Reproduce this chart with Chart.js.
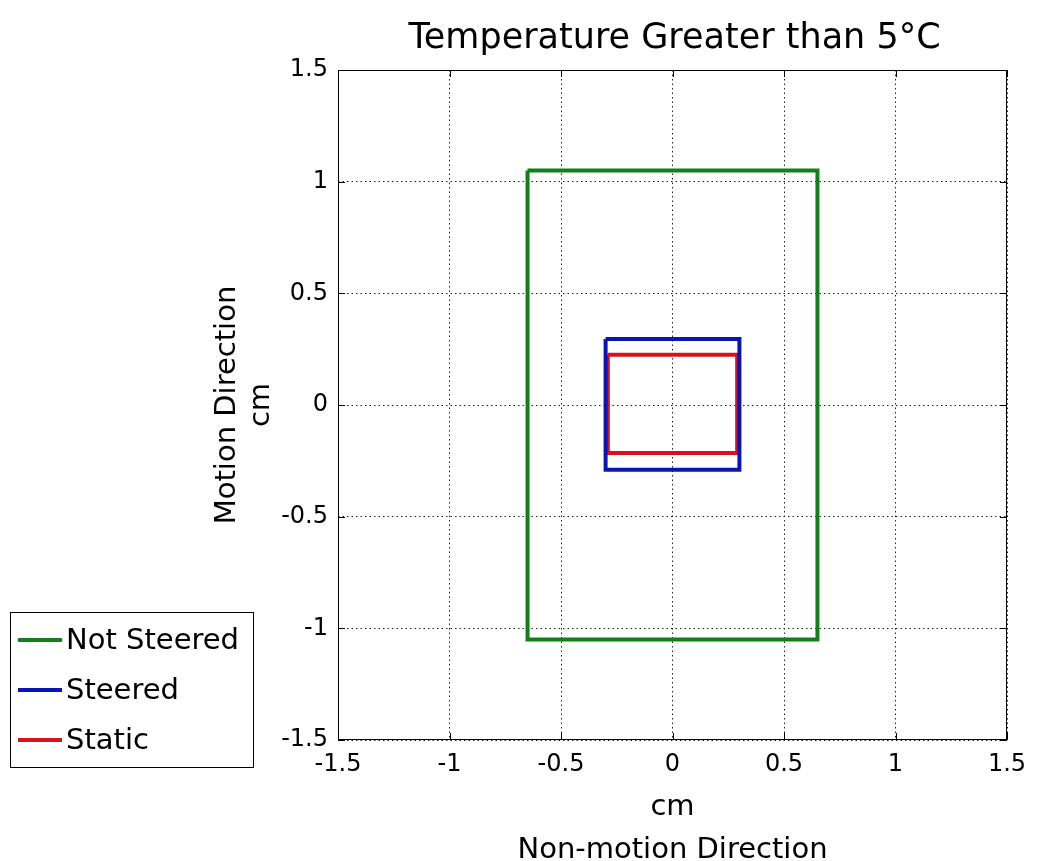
<!DOCTYPE html>
<html>
<head>
<meta charset="utf-8">
<script src="https://cdn.jsdelivr.net/npm/chart.js@4"></script>
<style>
  body { margin: 0; background: #fff; }
  #wrap { width: 1050px; height: 861px; }
</style>
</head>
<body>
<div id="wrap"><canvas id="chart" width="1050" height="861"></canvas></div>
<script>
// values (corners of each region, closed path)
const chartTitle = "Temperature Greater than 5°C"
const seriesNames = ["Not Steered", "Steered", "Static"]
const notSteeredX = [-0.65, 0.65, 0.65, -0.65, -0.65]
const notSteeredY = [1.05, 1.05, -1.05, -1.05, 1.05]
const steeredX = [-0.3, 0.3, 0.3, -0.3, -0.3]
const steeredY = [0.295, 0.295, -0.29, -0.29, 0.295]
const staticX = [-0.29, 0.29, 0.29, -0.29, -0.29]
const staticY = [0.225, 0.225, -0.215, -0.215, 0.225]
const tickValues = [-1.5, -1, -0.5, 0, 0.5, 1, 1.5]

const FONT = "'DejaVu Sans', Verdana, sans-serif"

function toPoints(xs, ys) {
  return xs.map((x, i) => ({ x: x, y: ys[i] }))
}

function line(label, xs, ys, color) {
  return {
    label: label,
    data: toPoints(xs, ys),
    showLine: true,
    borderColor: color,
    backgroundColor: color,
    borderWidth: 4,
    pointRadius: 0,
    borderJoinStyle: "miter",
    tension: 0,
  }
}

// title over the plot box, frame, inward ticks and the boxed legend at lower left
const framePlugin = {
  id: "frame",
  afterDraw(chart) {
    const ctx = chart.ctx
    const a = chart.chartArea
    const xs = chart.scales.x
    const ys = chart.scales.y
    ctx.save()

    ctx.fillStyle = "#000"
    ctx.font = "35px " + FONT
    ctx.textAlign = "center"
    ctx.textBaseline = "alphabetic"
    ctx.fillText(chartTitle, (a.left + a.right) / 2 + 2, 48)

    ctx.strokeStyle = "#000"
    ctx.lineWidth = 1
    ctx.setLineDash([])
    ctx.strokeRect(a.left + 0.5, a.top + 0.5, a.right - a.left - 1, a.bottom - a.top - 1)
    ctx.beginPath()
    tickValues.forEach((v) => {
      const px = Math.round(xs.getPixelForValue(v)) + 0.5
      ctx.moveTo(px, a.top); ctx.lineTo(px, a.top + 7)
      ctx.moveTo(px, a.bottom); ctx.lineTo(px, a.bottom - 7)
      const py = Math.round(ys.getPixelForValue(v)) + 0.5
      ctx.moveTo(a.left, py); ctx.lineTo(a.left + 7, py)
      ctx.moveTo(a.right, py); ctx.lineTo(a.right - 7, py)
    })
    ctx.stroke()

    // legend
    const lx = 10, ly = 612, lw = 243, lh = 155
    ctx.fillStyle = "#fff"
    ctx.fillRect(lx, ly, lw, lh)
    ctx.strokeRect(lx + 0.5, ly + 0.5, lw, lh)
    ctx.font = "29px " + FONT
    ctx.textAlign = "left"
    ctx.textBaseline = "middle"
    chart.data.datasets.forEach((ds, i) => {
      const y = ly + 28 + i * 50
      ctx.strokeStyle = ds.borderColor
      ctx.lineWidth = 4
      ctx.beginPath()
      ctx.moveTo(lx + 8, y); ctx.lineTo(lx + 52, y)
      ctx.stroke()
      ctx.fillStyle = "#000"
      ctx.fillText(ds.label, lx + 56, y + 1)
    })
    ctx.restore()
  },
}

const config = {
  type: "scatter",
  data: {
    datasets: [
      line(seriesNames[0], notSteeredX, notSteeredY, "#12801a"),
      line(seriesNames[1], steeredX, steeredY, "#0a14b4"),
      line(seriesNames[2], staticX, staticY, "#d4141c"),
    ],
  },
  options: {
    responsive: false,
    animation: false,
    layout: { padding: { left: 200, right: 43, top: 70, bottom: 0 } },
    plugins: {
      legend: { display: false },
      tooltip: { enabled: false },
      title: { display: false },
    },
    scales: {
      x: {
        type: "linear",
        min: -1.5,
        max: 1.5,
        afterBuildTicks: (s) => { s.ticks = tickValues.map((v) => ({ value: v })) },
        afterFit: (s) => { s.height = 121 },
        ticks: {
          callback: (v) => String(v),
          color: "#000",
          font: { family: FONT, size: 24 },
          padding: 10,
          maxRotation: 0,
        },
        grid: { color: "#222", lineWidth: 1, drawTicks: false },
        border: { display: false, dash: [1.5, 3] },
        title: {
          display: true,
          text: ["cm", "Non-motion Direction"],
          color: "#000",
          font: { family: FONT, size: 29, lineHeight: 1.45 },
          padding: { top: 0, bottom: -10 },
        },
      },
      y: {
        type: "linear",
        min: -1.5,
        max: 1.5,
        afterBuildTicks: (s) => { s.ticks = tickValues.map((v) => ({ value: v })) },
        afterFit: (s) => { s.width = 138 },
        ticks: {
          callback: (v) => String(v),
          color: "#000",
          font: { family: FONT, size: 24 },
          padding: 10,
        },
        grid: { color: "#222", lineWidth: 1, drawTicks: false },
        border: { display: false, dash: [1.5, 3] },
        title: {
          display: true,
          text: ["Motion Direction", "cm"],
          color: "#000",
          font: { family: FONT, size: 29, lineHeight: 1.17 },
          padding: { top: 11, bottom: 0 },
        },
      },
    },
  },
  plugins: [framePlugin],
}

const chart = new Chart(document.getElementById("chart"), config)
</script>
</body>
</html>
